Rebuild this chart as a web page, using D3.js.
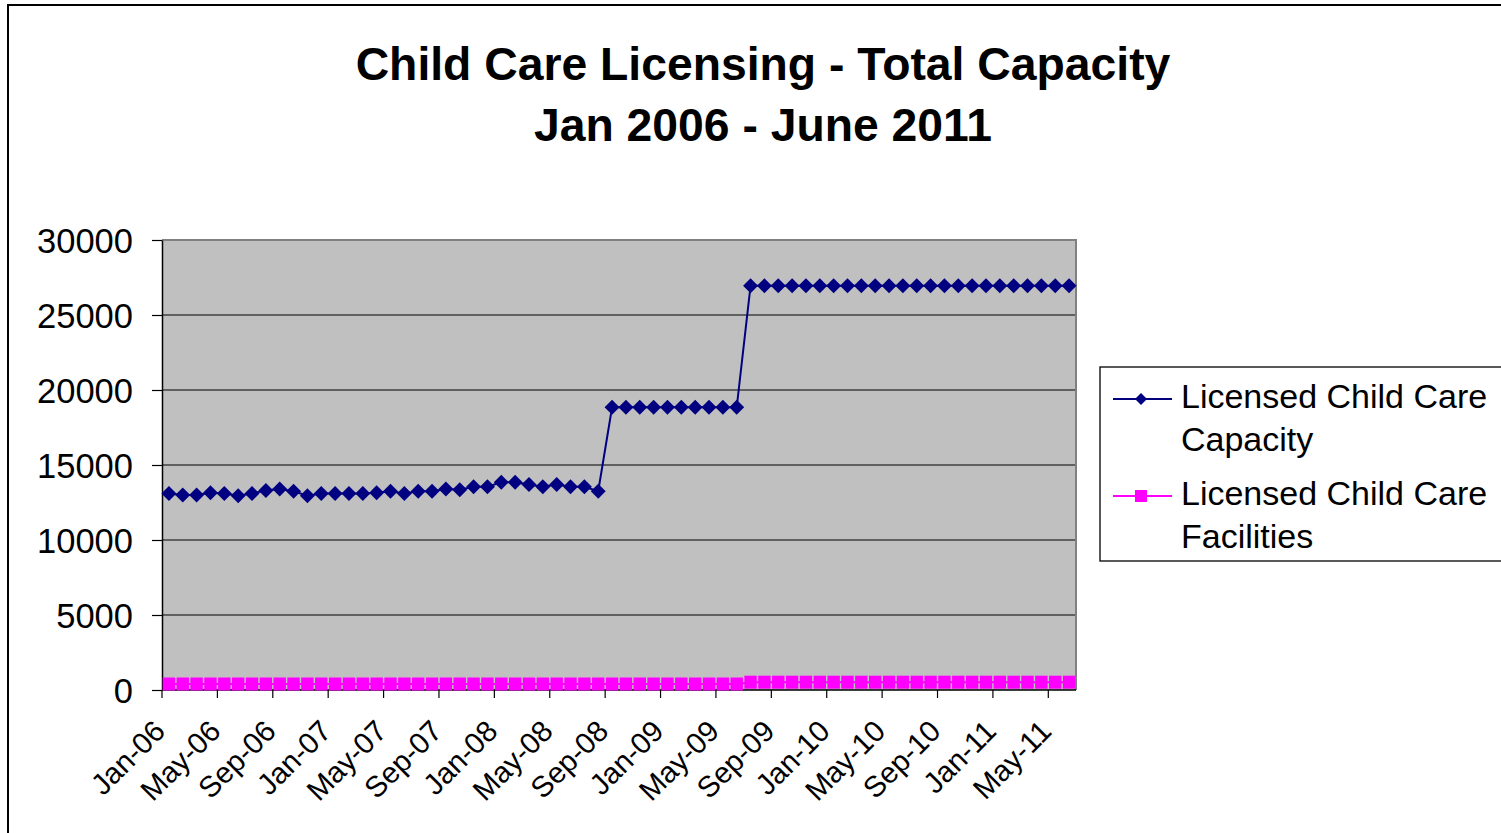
<!DOCTYPE html>
<html>
<head>
<meta charset="utf-8">
<script src="https://cdn.jsdelivr.net/npm/d3@7"></script>
<style>
  html, body { margin: 0; padding: 0; background: #ffffff; }
  svg { display: block; }
  text { font-family: "Liberation Sans", Arial, sans-serif; fill: #000; }
</style>
</head>
<body>
<svg id="chart" width="1501" height="833"></svg>
<script>
// Monthly categories, Jan 2006 through Jun 2011
const months = [
  "Jan-06","Feb-06","Mar-06","Apr-06","May-06","Jun-06","Jul-06","Aug-06","Sep-06","Oct-06","Nov-06","Dec-06",
  "Jan-07","Feb-07","Mar-07","Apr-07","May-07","Jun-07","Jul-07","Aug-07","Sep-07","Oct-07","Nov-07","Dec-07",
  "Jan-08","Feb-08","Mar-08","Apr-08","May-08","Jun-08","Jul-08","Aug-08","Sep-08","Oct-08","Nov-08","Dec-08",
  "Jan-09","Feb-09","Mar-09","Apr-09","May-09","Jun-09","Jul-09","Aug-09","Sep-09","Oct-09","Nov-09","Dec-09",
  "Jan-10","Feb-10","Mar-10","Apr-10","May-10","Jun-10","Jul-10","Aug-10","Sep-10","Oct-10","Nov-10","Dec-10",
  "Jan-11","Feb-11","Mar-11","Apr-11","May-11","Jun-11"
];

// Licensed child care capacity (children)
const capacity = [
  13100,13000,13000,13150,13100,12950,13100,13300,13400,13250,12950,13100,
  13100,13100,13100,13150,13250,13100,13250,13250,13400,13350,13550,13550,
  13850,13850,13700,13550,13700,13550,13550,13250,18850,18850,18850,18850,
  18850,18850,18850,18850,18850,18850,26950,26950,26950,26950,26950,26950,
  26950,26950,26950,26950,26950,26950,26950,26950,26950,26950,26950,26950,
  26950,26950,26950,26950,26950,26950
];

// Licensed child care facilities (count)
const facilities = [
  400,400,400,400,400,400,400,400,400,400,400,400,
  400,400,400,400,400,400,400,400,400,400,400,400,
  400,400,400,400,400,400,400,400,400,400,400,400,
  400,400,400,400,400,400,520,520,520,520,520,520,
  520,520,520,520,520,520,520,520,520,520,520,520,
  520,520,520,520,520,520
];

const yTicks = [0, 5000, 10000, 15000, 20000, 25000, 30000];
const titleLines = ["Child Care Licensing - Total Capacity", "Jan 2006 - June 2011"];
const seriesNames = [["Licensed Child Care", "Capacity"], ["Licensed Child Care", "Facilities"]];

const svg = d3.select("#chart");
const plot = { left: 162, right: 1076, top: 240, bottom: 690 };

// outer chart frame
svg.append("rect")
  .attr("x", 8).attr("y", 5).attr("width", 1700).attr("height", 1000)
  .attr("fill", "#fff").attr("stroke", "#000").attr("stroke-width", 2);

// title
svg.append("g").selectAll("text").data(titleLines).join("text")
  .attr("x", 763).attr("y", (d, i) => 80 + i * 61)
  .attr("text-anchor", "middle")
  .attr("font-size", 46.3).attr("font-weight", "bold")
  .text(d => d);

const x = d3.scaleBand().domain(d3.range(months.length)).range([plot.left, plot.right]).padding(0);
const y = d3.scaleLinear().domain([0, 30000]).range([plot.bottom, plot.top]);
const cx = i => x(i) + x.bandwidth() / 2;

// plot background
svg.append("rect")
  .attr("x", plot.left).attr("y", plot.top)
  .attr("width", plot.right - plot.left).attr("height", plot.bottom - plot.top)
  .attr("fill", "#c0c0c0");

// horizontal gridlines
svg.append("g").selectAll("line").data(yTicks.filter(v => v > 0 && v < 30000)).join("line")
  .attr("x1", plot.left).attr("x2", plot.right)
  .attr("y1", d => y(d)).attr("y2", d => y(d))
  .attr("stroke", "#000").attr("stroke-width", 1.2);

// plot frame: top and right in grey
svg.append("path")
  .attr("d", `M${plot.left},${plot.top}H${plot.right}V${plot.bottom}`)
  .attr("fill", "none").attr("stroke", "#808080").attr("stroke-width", 2);

// y axis
const yAxis = d3.axisLeft(y).tickValues(yTicks).tickSize(10).tickSizeOuter(0).tickFormat(d3.format("d"));
const gy = svg.append("g").attr("transform", `translate(${plot.left},0)`).call(yAxis);
gy.select(".domain").attr("stroke", "#000").attr("stroke-width", 1.5);
gy.selectAll(".tick line").attr("stroke", "#000").attr("stroke-width", 1.2);
gy.selectAll(".tick text")
  .attr("x", -29).attr("dy", "0.36em")
  .attr("font-size", 34.5).attr("font-family", "Liberation Sans, Arial, sans-serif").attr("fill", "#000");

// x axis line
svg.append("line")
  .attr("x1", plot.left).attr("x2", plot.right)
  .attr("y1", plot.bottom).attr("y2", plot.bottom)
  .attr("stroke", "#000").attr("stroke-width", 1.5);

// x ticks every four months at category boundaries
const tickIdx = d3.range(months.length).filter(i => i % 4 === 0);
svg.append("g").selectAll("line").data(tickIdx).join("line")
  .attr("x1", i => x(i)).attr("x2", i => x(i))
  .attr("y1", plot.bottom).attr("y2", plot.bottom + 8)
  .attr("stroke", "#000").attr("stroke-width", 1.2);

svg.append("g").selectAll("text").data(tickIdx).join("text")
  .attr("transform", i => `translate(${cx(i) - 2},733) rotate(-45)`)
  .attr("text-anchor", "end")
  .attr("font-size", 29.5)
  .text(i => months[i]);

// capacity series
const line = vals => d3.line().x((d, i) => cx(i)).y(d => y(d))(vals);
svg.append("path").attr("d", line(capacity))
  .attr("fill", "none").attr("stroke", "#000080").attr("stroke-width", 2);
svg.append("g").selectAll("path").data(capacity).join("path")
  .attr("transform", (d, i) => `translate(${cx(i)},${y(d)}) rotate(45)`)
  .attr("d", d3.symbol().type(d3.symbolSquare).size(112)())
  .attr("fill", "#000080");

// facilities series
svg.append("path").attr("d", line(facilities))
  .attr("fill", "none").attr("stroke", "#ff00ff").attr("stroke-width", 2);
svg.append("g").selectAll("rect").data(facilities).join("rect")
  .attr("x", (d, i) => cx(i) - 6.2).attr("y", d => y(d) - 6.5)
  .attr("width", 12.4).attr("height", 13)
  .attr("fill", "#ff00ff");

// legend
const lg = svg.append("g");
lg.append("rect").attr("x", 1100).attr("y", 367).attr("width", 500).attr("height", 194)
  .attr("fill", "#fff").attr("stroke", "#000").attr("stroke-width", 1.3);
const legendY = [399, 496];
const colors = ["#000080", "#ff00ff"];
legendY.forEach((ly, k) => {
  lg.append("line").attr("x1", 1113).attr("x2", 1172).attr("y1", ly).attr("y2", ly)
    .attr("stroke", colors[k]).attr("stroke-width", 2);
  if (k === 0) {
    lg.append("path").attr("transform", `translate(1141,${ly}) rotate(45)`)
      .attr("d", d3.symbol().type(d3.symbolSquare).size(72)()).attr("fill", colors[k]);
  } else {
    lg.append("rect").attr("x", 1135).attr("y", ly - 6).attr("width", 12).attr("height", 12)
      .attr("fill", colors[k]);
  }
  seriesNames[k].forEach((t, j) => {
    lg.append("text").attr("x", 1181).attr("y", ly + 8.5 + j * 43)
      .attr("font-size", 34).text(t);
  });
});
</script>
</body>
</html>
